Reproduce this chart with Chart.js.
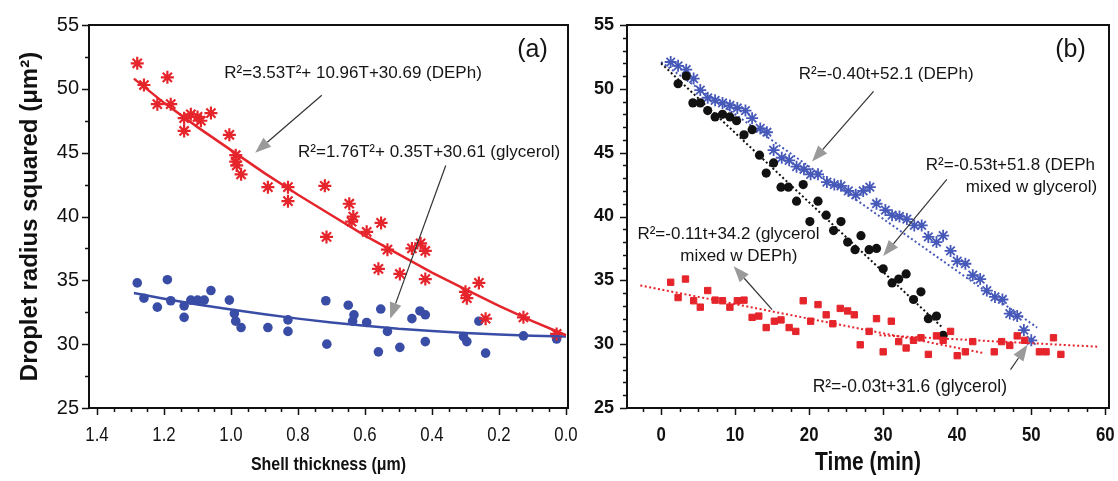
<!DOCTYPE html>
<html>
<head>
<meta charset="utf-8">
<script src="https://cdn.jsdelivr.net/npm/chart.js@4.4.0/dist/chart.umd.min.js"></script>
<style>
  body { margin: 0; background: #fff; width: 1118px; height: 481px; overflow: hidden; position: relative; }
  #ca { position: absolute; left: 0; top: 0; }
  #cb { position: absolute; left: 575px; top: 0; }
</style>
</head>
<body>
<canvas id="cb" width="543" height="481"></canvas>
<canvas id="ca" width="600" height="481"></canvas>
<script>
// ---- panel (a): droplet radius squared vs shell thickness [T (um), R^2 (um^2)]
const aDeph = [[1.28,52.0],[1.26,50.3],[1.19,50.9],[1.22,48.8],[1.18,48.8],[1.14,47.7],[1.14,46.7],[1.12,48.0],
  [1.10,47.8],[1.09,47.5],[1.06,48.1],[1.005,46.4],[0.986,44.8],[0.986,44.3],[0.983,44.0],[0.97,43.3],[0.89,42.3],
  [0.83,42.3],[0.83,41.2],[0.72,42.4],[0.715,38.4],[0.647,41.0],[0.635,40.0],[0.64,39.6],[0.552,39.5],[0.595,38.8],
  [0.533,37.4],[0.46,37.5],[0.434,37.9],[0.42,37.3],[0.56,35.9],[0.496,35.5],[0.42,35.1],[0.26,34.8],[0.30,34.1],
  [0.296,33.6],[0.24,32.0],[0.127,32.1],[0.028,30.8]];
const aGly = [[1.28,34.8],[1.26,33.6],[1.22,32.9],[1.19,35.05],[1.18,33.4],[1.14,33.0],[1.14,32.1],[1.12,33.45],
  [1.10,33.45],[1.08,33.45],[1.06,34.2],[1.005,33.45],[0.99,32.4],[0.986,31.8],[0.97,31.3],[0.89,31.3],[0.83,31.9],
  [0.83,31.0],[0.717,33.4],[0.714,30.0],[0.65,33.05],[0.633,32.3],[0.637,31.8],[0.595,31.7],[0.553,32.75],[0.533,31.0],
  [0.56,29.4],[0.496,29.75],[0.46,32.0],[0.436,32.6],[0.42,32.3],[0.42,30.2],[0.306,30.6],[0.296,30.2],[0.26,31.8],
  [0.24,29.3],[0.127,30.65],[0.028,30.4]];
const aFitT = [1.29,1.2,1.1,1.0,0.9,0.8,0.7,0.6,0.5,0.4,0.3,0.2,0.1,0.0];
const aFitDeph = [50.8,48.9,47.0,45.2,43.4,41.7,40.1,38.5,37.05,35.6,34.3,33.0,31.8,30.7];
const aFitGly = [34.0,33.56,33.1,32.72,32.35,32.0,31.7,31.45,31.2,31.03,30.87,30.75,30.66,30.61];

// ---- panel (b): droplet radius squared vs time [t (min), R^2 (um^2)]
const bDeph = [[1.3,52.1],[2.3,51.8],[3.4,51.5],[4.4,50.8],[5.3,49.9],[6.3,49.3],[7.3,49.1],[8.3,48.9],[9.3,48.7],
  [10.3,48.5],[11.4,48.3],[12.3,47.7],[13.4,46.9],[14.3,46.6],[15.2,45.2],[16.3,44.6],[17.3,44.4],[18.3,43.9],
  [19.3,43.7],[20.2,43.3],[21.2,43.3],[22.4,42.7],[23.4,42.5],[24.3,42.4],[25.3,42.0],[26.3,41.7],[27.3,42.0],
  [28.2,42.3],[29.1,41.0],[30.3,40.5],[31.2,40.1],[32.2,40.0],[33.2,39.8],[34.2,39.3],[35.2,39.3],[36.1,38.4],
  [37.2,38.0],[38.1,38.5],[39.1,37.3],[40.0,36.5],[41.1,36.3],[42.1,35.4],[43.1,35.1],[44.0,34.2],[45.1,33.7],
  [46.1,33.5],[47.1,32.4],[48.1,32.2],[49.0,31.1],[50.0,30.3]];
const bDephMix = [[2.3,50.4],[3.4,51.0],[4.3,48.9],[5.3,48.9],[6.3,48.3],[7.3,47.8],[8.3,48.0],[9.3,47.8],[10.2,47.5],
  [11.2,46.4],[12.3,46.8],[13.3,44.8],[14.2,43.4],[15.2,44.2],[16.2,42.3],[17.2,42.3],[18.3,41.2],[19.2,42.5],
  [20.1,39.6],[21.2,41.2],[22.3,40.1],[23.3,38.9],[24.3,39.6],[25.2,38.0],[26.2,37.4],[27.0,38.5],[28.1,37.4],
  [29.1,37.5],[30.0,35.9],[31.2,34.8],[32.1,35.1],[33.1,35.5],[34.1,33.5],[35.1,34.1],[36.1,32.0],[37.2,32.2],[38.1,30.7]];
const bGlyMix = [[1.3,34.85],[2.3,33.65],[3.3,35.1],[4.4,33.4],[5.3,32.9],[6.3,34.2],[7.3,33.45],[8.3,33.4],[9.3,32.9],
  [10.3,33.4],[11.2,33.45],[12.3,32.1],[13.2,32.2],[14.2,31.3],[15.3,31.8],[16.2,31.9],[17.3,31.3],[18.2,31.0],
  [19.2,33.4],[20.2,31.8],[21.2,33.1],[22.3,32.3],[23.2,31.6],[24.2,32.8],[25.2,32.6],[26.1,32.3],[26.9,29.95],
  [28.1,31.0],[29.1,32.0],[30.0,29.4],[31.1,31.8],[32.1,30.2],[33.1,29.7],[34.1,30.3],[35.1,30.5],[36.1,29.2],
  [37.2,30.65],[38.1,30.3],[39.1,31.0],[40.0,29.1],[41.1,29.4],[42.1,30.2]];
const bGly = [[45.0,29.4],[46.0,30.2],[47.1,29.9],[48.1,30.65],[49.1,30.3],[51.1,29.4],[52.0,29.4],[53.0,30.5],[54.0,29.2]];
// fitted lines, end points
const bFitDeph = [[0,52.1],[50.8,31.3]];
const bFitDephMix = [[0,52.0],[38,31.3]];
const bFitGlyMix = [[-2.8,34.6],[43.6,29.3]];
const bFitGly = [[29.5,30.7],[59,29.8]];

// ---- ticks
const aXTicks = [0, 0.2, 0.4, 0.6, 0.8, 1.0, 1.2, 1.4];
const bXTicks = [0, 10, 20, 30, 40, 50, 60];
const yTicks = [25, 30, 35, 40, 45, 50, 55];

const SANS = "'Liberation Sans', Arial, sans-serif";
const RED = '#e5252b', NAVY = '#3a4da6', BLUE = '#4659b8';

const pts = arr => arr.map(p => ({x: p[0], y: p[1]}));
const zip = (xs, ys) => xs.map((v, i) => ({x: v, y: ys[i]}));
const minor = (lo, hi, step, majors) => {
  const out = [];
  for (let v = lo; v <= hi + 1e-9; v += step) {
    const r = Math.round(v * 1000) / 1000;
    if (!majors.some(m => Math.abs(m - r) < 1e-6)) out.push(r);
  }
  return out;
};

// box frame, outward ticks, and condensed x labels / title
const frame = {
  id: 'frame',
  afterDraw(chart, args, o) {
    const {ctx, chartArea: a} = chart;
    const x = chart.scales.x, y = chart.scales.y;
    ctx.save();
    ctx.strokeStyle = '#111';
    ctx.lineWidth = 1.5;
    ctx.beginPath();
    const tick = (vals, len, horiz) => vals.forEach(v => {
      if (horiz) {
        const px = Math.round(x.getPixelForValue(v)) + 0.5;
        ctx.moveTo(px, a.bottom); ctx.lineTo(px, a.bottom + len);
      } else {
        const py = Math.round(y.getPixelForValue(v)) + 0.5;
        ctx.moveTo(a.left, py); ctx.lineTo(a.left - len, py);
      }
    });
    tick(o.xMajor, 7, true); tick(o.xMinor, 4, true);
    tick(o.yMajor, 7, false); tick(o.yMinor, 4, false);
    ctx.stroke();
    ctx.lineWidth = 2;
    ctx.strokeRect(a.left, a.top, a.right - a.left, a.bottom - a.top);

    ctx.fillStyle = '#111';
    ctx.textAlign = 'center';
    ctx.textBaseline = 'middle';
    const squeezed = (text, px, py, font, k) => {
      ctx.save();
      ctx.font = font;
      ctx.translate(px, py);
      ctx.scale(k, 1);
      ctx.fillText(text, 0, 0);
      ctx.restore();
    };
    o.xMajor.forEach(v => squeezed(o.fmt(v), x.getPixelForValue(v), a.bottom + o.labelOffset, o.labelFont, 0.8));
    squeezed(o.title, (a.left + a.right) / 2, a.bottom + o.titleOffset, o.titleFont, 0.84);
    ctx.restore();
  }
};

const notes = {
  id: 'notes',
  afterDraw(chart, args, o) {
    const {ctx} = chart;
    const x = chart.scales.x, y = chart.scales.y;
    ctx.save();
    (o.arrows || []).forEach(ar => {
      const x0 = x.getPixelForValue(ar[0]), y0 = y.getPixelForValue(ar[1]);
      const x1 = x.getPixelForValue(ar[2]), y1 = y.getPixelForValue(ar[3]);
      const ang = Math.atan2(y1 - y0, x1 - x0);
      const hl = 16, hw = 6;
      const bx = x1 - hl * Math.cos(ang), by = y1 - hl * Math.sin(ang);
      ctx.strokeStyle = '#333';
      ctx.lineWidth = 1.2;
      ctx.beginPath(); ctx.moveTo(x0, y0); ctx.lineTo(bx, by); ctx.stroke();
      ctx.fillStyle = '#9a9a9a';
      ctx.beginPath();
      ctx.moveTo(x1, y1);
      ctx.lineTo(bx + hw * Math.sin(ang), by - hw * Math.cos(ang));
      ctx.lineTo(bx - hw * Math.sin(ang), by + hw * Math.cos(ang));
      ctx.closePath(); ctx.fill();
    });
    (o.texts || []).forEach(t => {
      ctx.save();
      ctx.font = t.font;
      ctx.fillStyle = '#151515';
      ctx.textAlign = t.align || 'left';
      ctx.textBaseline = 'middle';
      ctx.translate(x.getPixelForValue(t.x), y.getPixelForValue(t.y));
      ctx.scale(t.k || 1, 1);
      ctx.fillText(t.text, 0, 0);
      ctx.restore();
    });
    ctx.restore();
  }
};

const NOTE = '17px ' + SANS;

function yScale(width, pad, font) {
  return {
    min: 25, max: 55,
    afterBuildTicks: s => { s.ticks = yTicks.map(v => ({value: v})); },
    afterFit: s => { s.width = width; },
    grid: {display: false, drawTicks: false},
    border: {display: false},
    ticks: {color: '#111', padding: pad, font: font}
  };
}

function xScale(min, max, reverse, ticks) {
  return {
    type: 'linear', reverse: reverse, min: min, max: max,
    afterBuildTicks: s => { s.ticks = ticks.map(v => ({value: v})); },
    afterFit: s => { s.height = 73; },
    grid: {display: false, drawTicks: false}, border: {display: false},
    ticks: {display: false}
  };
}

// ---------- chart (a)
new Chart(document.getElementById('ca'), {
  type: 'scatter',
  data: {
    datasets: [
      {data: zip(aFitT, aFitDeph), showLine: true, borderColor: RED, borderWidth: 2.5, pointRadius: 0},
      {data: zip(aFitT, aFitGly), showLine: true, borderColor: NAVY, borderWidth: 2.5, pointRadius: 0},
      {data: pts(aDeph), pointStyle: 'star', radius: 6.5, borderColor: RED, borderWidth: 2.2, backgroundColor: RED},
      {data: pts(aGly), pointStyle: 'circle', radius: 4.8, borderWidth: 0, backgroundColor: NAVY}
    ]
  },
  options: {
    responsive: false, animation: false,
    layout: {padding: {left: 0, right: 32, top: 25, bottom: 0}},
    plugins: {
      legend: {display: false}, tooltip: {enabled: false},
      frame: {
        xMajor: aXTicks, xMinor: minor(0, 1.4, 0.05, aXTicks), yMajor: yTicks, yMinor: minor(25, 55, 2.5, yTicks),
        fmt: v => v.toFixed(1), labelOffset: 27, labelFont: '21px ' + SANS,
        title: 'Shell thickness (μm)', titleOffset: 57, titleFont: 'bold 19px ' + SANS
      },
      notes: {
        texts: [
          {x: 1.02, y: 51.2, text: 'R²=3.53T²+ 10.96T+30.69 (DEPh)', font: NOTE},
          {x: 0.80, y: 45.0, text: 'R²=1.76T²+ 0.35T+30.61 (glycerol)', font: NOTE},
          {x: 0.10, y: 53.0, text: '(a)', font: '25px ' + SANS, align: 'center'}
        ],
        arrows: [[0.729, 49.5, 0.928, 45.0], [0.359, 44.0, 0.525, 32.0]]
      }
    },
    scales: {
      x: xScale(-0.006, 1.424, true, aXTicks),
      y: Object.assign(yScale(89, 10, {family: SANS, size: 20}), {
        title: {display: true, text: 'Droplet radius squared (μm²)', color: '#111',
          font: {family: SANS, size: 24, weight: 'bold'}, padding: {top: 16}}
      })
    }
  },
  plugins: [frame, notes]
});

// ---------- chart (b)
const dotted = (data, color) => ({data: pts(data), showLine: true, borderColor: color, borderWidth: 2,
  borderDash: [2, 2.5], pointRadius: 0});

new Chart(document.getElementById('cb'), {
  type: 'scatter',
  data: {
    datasets: [
      dotted(bFitGlyMix, RED),
      dotted(bFitGly, RED),
      {data: pts(bGlyMix), pointStyle: 'rect', radius: 4.5, borderWidth: 1, borderColor: RED, backgroundColor: RED},
      {data: pts(bGly), pointStyle: 'rect', radius: 4.5, borderWidth: 1, borderColor: RED, backgroundColor: RED},
      {data: pts(bDephMix), pointStyle: 'circle', radius: 4.6, borderWidth: 0, backgroundColor: '#111'},
      dotted(bFitDephMix, '#111'),
      {data: pts(bDeph), pointStyle: 'star', radius: 6, borderColor: BLUE, borderWidth: 1.8, backgroundColor: BLUE},
      dotted(bFitDeph, BLUE)
    ]
  },
  options: {
    responsive: false, animation: false,
    layout: {padding: {left: 0, right: 9, top: 25, bottom: 0}},
    plugins: {
      legend: {display: false}, tooltip: {enabled: false},
      frame: {
        xMajor: bXTicks, xMinor: minor(-2.5, 60, 2.5, bXTicks), yMajor: yTicks, yMinor: minor(25, 55, 1, yTicks),
        fmt: v => String(v), labelOffset: 27, labelFont: 'bold 21px ' + SANS,
        title: 'Time (min)', titleOffset: 55, titleFont: 'bold 25px ' + SANS
      },
      notes: {
        texts: [
          {x: 18.6, y: 51.1, text: 'R²=-0.40t+52.1 (DEPh)', font: NOTE},
          {x: 58.6, y: 44.0, text: 'R²=-0.53t+51.8 (DEPh', font: NOTE, align: 'right'},
          {x: 58.9, y: 42.3, text: 'mixed w glycerol)', font: NOTE, align: 'right'},
          {x: 9.1, y: 38.6, text: 'R²=-0.11t+34.2 (glycerol', font: NOTE, align: 'center'},
          {x: 10.5, y: 36.9, text: 'mixed w DEPh)', font: NOTE, align: 'center'},
          {x: 33.6, y: 26.65, text: 'R²=-0.03t+31.6 (glycerol)', font: '19px ' + SANS, align: 'center', k: 0.92},
          {x: 55.3, y: 53.0, text: '(b)', font: '25px ' + SANS, align: 'center'}
        ],
        arrows: [[28.7, 49.8, 20.4, 44.3], [38.6, 42.9, 30.0, 36.9], [15.0, 32.7, 9.8, 36.1], [47.2, 28.0, 49.5, 29.95]]
      }
    },
    scales: {
      x: xScale(-4.6, 60.5, false, bXTicks),
      y: yScale(52, 13, {family: SANS, size: 18, weight: 'bold'})
    }
  },
  plugins: [frame, notes]
});
</script>
</body>
</html>
